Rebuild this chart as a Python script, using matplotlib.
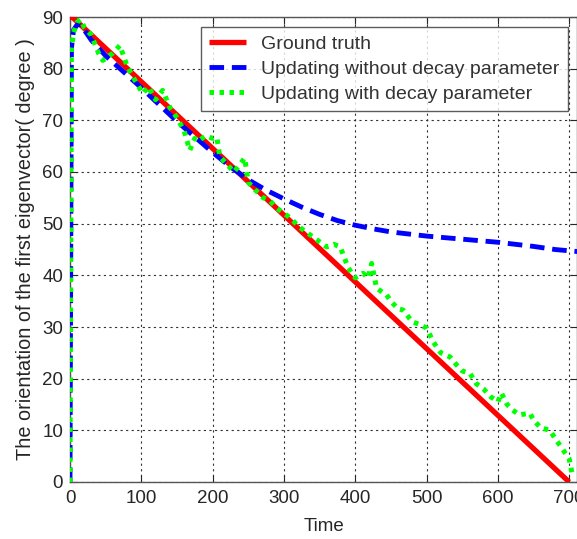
import matplotlib
matplotlib.use("Agg")
import matplotlib.pyplot as plt

# Ground truth
gt_t = [0, 3, 700]
gt_v = [90, 90, 0]

# Updating without decay parameter
blue_t = [0, 2, 5, 10, 15, 30, 50, 100, 150, 200, 225, 250, 275, 300, 325, 350, 375, 400, 425, 450, 500, 550, 600, 650, 680, 712]
blue_v = [0, 84, 87.5, 88.5, 88.5, 85.5, 82.5, 76.3, 69.8, 63.8, 61.0, 58.5, 56.5, 54.8, 53.2, 51.8, 50.6, 49.7, 49.0, 48.4, 47.6, 47.0, 46.4, 45.6, 45.0, 44.6]

# Updating with decay parameter
green_t = [0, 2, 5, 10, 15, 20, 30, 40, 46, 50, 60, 70, 80, 90, 102, 110, 120, 130, 140, 150,
           160, 168, 175, 180, 190, 200, 206, 210, 220, 230, 245, 250, 260, 271, 280, 290, 300,
           310, 320, 330, 340, 350, 360, 370, 379, 390, 400, 411, 418, 423, 430, 444, 450, 460,
           467, 480, 490, 500, 510, 520, 533, 540, 550, 561, 570, 580, 590, 600, 605, 613, 620,
           630, 645, 650, 660, 673, 680, 690, 700, 705]
green_v = [0, 84, 87, 89, 89.5, 88, 86.5, 83, 81.6, 82, 83, 84.5, 80.5, 78, 75.2, 76.5, 74, 75.8, 72.5, 70.5,
           68, 64.2, 66.5, 66, 67, 66.5, 66.7, 63, 61.5, 60, 62.7, 58, 56.5, 55, 54.5, 53, 52,
           51, 49.5, 48.5, 47.5, 46.5, 45.5, 46, 45.5, 41.5, 39.5, 40.4, 39.5, 42.3, 37.5, 36.2, 35, 33.5,
           33.3, 31, 30.5, 29.8, 27, 25, 24.2, 23, 21.5, 21, 19, 18, 16.5, 15.5, 17.2, 15, 14,
           13, 13.3, 12, 10.5, 10, 8.5, 6.5, 4.5, 1]

x_ticks = [0, 100, 200, 300, 400, 500, 600, 700]
y_ticks = [0, 10, 20, 30, 40, 50, 60, 70, 80, 90]

txt = '#262626'
plt.rcParams['font.family'] = ['Liberation Sans', 'DejaVu Sans']

fig = plt.figure(figsize=(5.77, 5.39), dpi=100)
ax = fig.add_axes([70/577, 57/539, 1 - 70/577, (482 - 17)/539])

ax.plot(gt_t, gt_v, color='#ff0000', lw=3.8, solid_capstyle='butt', label='Ground truth', zorder=3)
ax.plot(blue_t, blue_v, color='#0000ff', lw=3.5, ls=(0, (3, 1.6)), label='Updating without decay parameter', zorder=4)
ax.plot(green_t, green_v, color='#00ff00', lw=3.6, ls=(0, (0.9, 1.1)), label='Updating with decay parameter', zorder=5)

ax.set_xlim(0, 711)
ax.set_ylim(0, 90)
ax.set_xticks(x_ticks)
ax.set_yticks(y_ticks)
ax.tick_params(direction='in', top=True, right=True, length=5, labelsize=13.5, colors=txt, width=0.8)
ax.tick_params(axis='x', pad=6)
ax.tick_params(axis='y', pad=5)
ax.grid(True, color='#333333', ls=(0, (2, 3)), lw=0.8)
for s in ax.spines.values():
    s.set_color('#555555')
    s.set_linewidth(1)

ax.set_xlabel('Time', fontsize=13.5, color=txt, labelpad=8)
ax.set_ylabel('The orientation of the first eigenvector( degree )', fontsize=14.3, color=txt, labelpad=5)

leg = ax.legend(loc='upper right', bbox_to_anchor=(0.982, 0.978), fontsize=14, frameon=True, fancybox=False,
                edgecolor='#333333', handlelength=1.9, borderpad=0.42, labelspacing=0.37, handletextpad=0.8,
                borderaxespad=0)
leg.get_frame().set_linewidth(1)
for t in leg.get_texts():
    t.set_color('#333333')

fig.savefig('out.png', dpi=100)
